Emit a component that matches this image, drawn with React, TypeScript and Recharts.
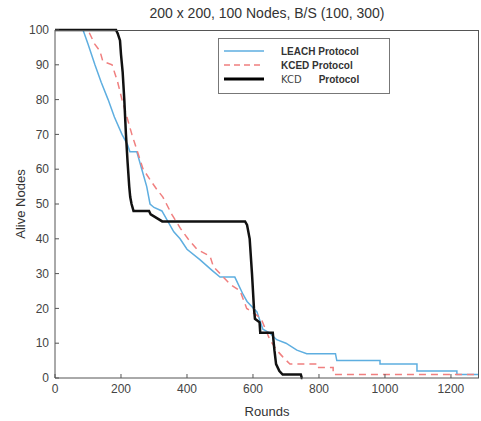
import { LineChart, Line, XAxis, YAxis } from 'recharts';

const title = '200 x 200, 100 Nodes, B/S (100, 300)';
const xTicks = [0, 200, 400, 600, 800, 1000, 1200];
const yTicks = [0, 10, 20, 30, 40, 50, 60, 70, 80, 90, 100];

// [round, alive nodes]
const leach: [number, number][] = [
  [0, 100], [85, 100], [100, 96], [121, 90], [140, 85], [161, 80], [180, 75], [203, 70],
  [220, 67], [227, 65], [248, 65], [263, 60], [278, 55], [288, 50], [300, 49], [324, 48],
  [342, 45], [360, 42], [379, 40], [400, 37], [439, 34], [475, 31], [500, 29], [545, 29],
  [570, 24], [582, 22], [612, 19], [630, 14], [650, 13], [672, 11], [700, 10], [733, 8],
  [763, 7], [850, 7], [854, 5], [985, 5], [985, 4], [1097, 4], [1097, 2], [1218, 2],
  [1218, 1], [1290, 1],
];
const kced: [number, number][] = [
  [0, 100], [100, 100], [120, 96], [136, 94], [145, 91], [173, 90], [190, 85], [203, 80],
  [218, 75], [233, 70], [250, 65], [267, 60], [288, 57], [310, 54], [327, 52], [354, 47],
  [380, 43], [403, 40], [430, 37], [470, 35], [480, 32], [510, 29], [530, 27], [561, 25],
  [581, 20], [612, 18], [625, 17], [651, 11], [672, 8], [691, 6], [712, 4], [793, 4],
  [793, 3], [843, 3], [843, 1], [1290, 1],
];
const kcd: [number, number][] = [
  [0, 100], [185, 100], [190, 99], [197, 97], [200, 93], [205, 88], [210, 80], [215, 70],
  [220, 62], [225, 55], [228, 52], [232, 50], [238, 48], [285, 48], [290, 47], [325, 45],
  [576, 45], [582, 44], [590, 40], [597, 30], [603, 20], [606, 17], [620, 16], [622, 13],
  [660, 13], [665, 8], [670, 4], [680, 2], [690, 1], [745, 1], [748, 0], [750, 0],
];

const toRows = (pts: [number, number][]) => pts.map(([r, v]) => ({ r, v }));

const font = 'Liberation Sans, Arial, sans-serif';
const axisColor = '#555';
const tickStyle = { fill: '#444', fontSize: 12, fontFamily: font };

function LegendBox() {
  const rows = [
    { label: 'LEACH Protocol', color: '#5eaee0', dash: undefined as string | undefined, w: 1.5 },
    { label: 'KCED Protocol', color: '#f07f7f', dash: '6 4', w: 1.5 },
    { label: 'KCD', color: '#000', dash: undefined, w: 3 },
  ];
  return (
    <div style={{ position: 'absolute', top: 38, left: 218, border: '1px solid #777', width: 172, height: 56, background: '#fff', boxSizing: 'border-box', paddingTop: 5 }}>
      {rows.map((r, i) => (
        <div key={i} style={{ display: 'flex', alignItems: 'center', height: 14 }}>
          <svg width={62} height={10}>
            <line x1={5} x2={45} y1={5} y2={5} stroke={r.color} strokeWidth={r.w} strokeDasharray={r.dash} />
          </svg>
          {i < 2 ? (
            <span style={{ fontFamily: font, fontSize: 10, color: '#333', fontWeight: 600 }}>{r.label}</span>
          ) : (
            <span style={{ fontFamily: font, fontSize: 10, color: '#333' }}>
              <span style={{ fontFamily: 'DejaVu Sans, sans-serif', fontSize: 10, color: '#444' }}>KCD</span>
              <span style={{ marginLeft: 17, fontWeight: 600 }}>Protocol</span>
            </span>
          )}
        </div>
      ))}
    </div>
  );
}

export default function App() {
  return (
    <div style={{ position: 'absolute', left: 0, top: 0, width: 481, height: 421, background: '#fff' }}>
      <div style={{ position: 'absolute', top: 5, left: 55, width: 424, textAlign: 'center', fontFamily: font, fontSize: 14, color: '#333' }}>
        {title}
      </div>
      <LineChart width={481} height={421} margin={{ top: 30, right: 2, left: 0, bottom: 13 }}>
        <XAxis
          dataKey="r"
          type="number"
          domain={[0, 1285]}
          ticks={xTicks}
          allowDataOverflow
          stroke={axisColor}
          tick={tickStyle}
          tickSize={-4}
          tickMargin={10}
          height={30}
          label={{ value: 'Rounds', position: 'insideBottom', offset: -8, style: { fill: '#333', fontSize: 13, fontFamily: font } }}
        />
        <YAxis
          dataKey="v"
          type="number"
          domain={[0, 100]}
          ticks={yTicks}
          stroke={axisColor}
          tick={tickStyle}
          tickSize={-4}
          tickMargin={10}
          width={55}
          label={{ value: 'Alive Nodes', angle: -90, position: 'insideLeft', offset: 20, style: { fill: '#333', fontSize: 13, fontFamily: font, textAnchor: 'middle' } }}
        />
        <Line data={toRows(leach)} dataKey="v" name="LEACH Protocol" stroke="#5eaee0" strokeWidth={1.5} dot={false} isAnimationActive={false} />
        <Line data={toRows(kced)} dataKey="v" name="KCED Protocol" stroke="#f07f7f" strokeWidth={1.5} strokeDasharray="7 5" dot={false} isAnimationActive={false} />
        <Line data={toRows(kcd)} dataKey="v" name="KCD Protocol" stroke="#111" strokeWidth={2.5} dot={false} isAnimationActive={false} />
      </LineChart>
      <div style={{ position: 'absolute', left: 55, top: 30, width: 424, height: 348, border: '1px solid #555', borderLeft: 'none', borderBottom: 'none', boxSizing: 'border-box', pointerEvents: 'none' }} />
      <LegendBox />
    </div>
  );
}
